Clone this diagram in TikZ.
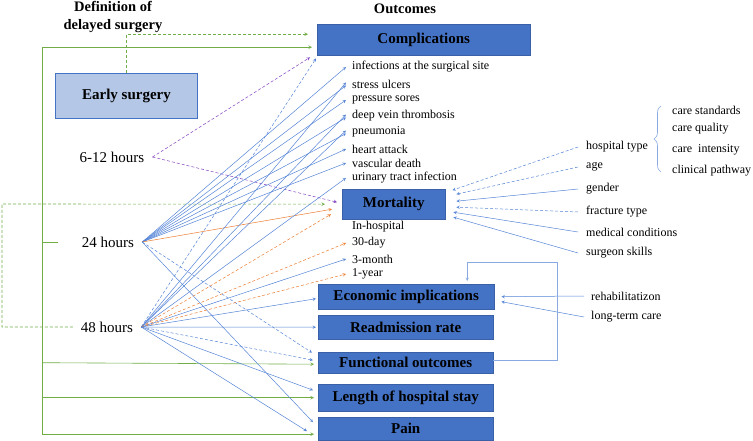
\documentclass[tikz,border=0pt]{standalone}
\usepackage{fontspec}
\setmainfont{Liberation Serif}
\usepackage{xcolor}
\usepackage{tikz}
\usetikzlibrary{positioning, decorations.pathreplacing}

\definecolor{boxblue}{HTML}{4472C4}
\definecolor{paleblue}{HTML}{B4C7E7}
\definecolor{linkblue}{HTML}{5584D6}
\definecolor{linkgreen}{HTML}{70AD47}
\definecolor{linkorange}{HTML}{ED7D31}
\definecolor{linkpurple}{HTML}{8040C0}

\begin{document}
\begin{tikzpicture}[x=1pt, y=-1pt,
  outbox/.style={rectangle, draw=boxblue!85!black, fill=boxblue, anchor=north west, inner sep=0pt, font=\fontsize{15}{17}\bfseries\selectfont},
  item/.style={anchor=west, inner xsep=6pt, inner ysep=1pt, font=\fontsize{12}{13}\selectfont},
  hour/.style={inner xsep=8pt, font=\fontsize{15}{17}\selectfont},
  heading/.style={align=center, font=\fontsize{14.5}{18}\bfseries\selectfont},
  bline/.style={draw=linkblue, line width=0.5pt, ->, >=stealth},
  bdash/.style={bline, dash pattern=on 3pt off 2pt},
  oline/.style={bline, draw=linkorange},
  odash/.style={bline, draw=linkorange, dash pattern=on 3pt off 2pt},
  pdash/.style={bline, draw=linkpurple, dash pattern=on 3pt off 2pt},
  gline/.style={draw=linkgreen, line width=0.6pt, >=stealth},
  gdash/.style={gline, dash pattern=on 3pt off 2pt}
]
\useasboundingbox (0,0) rectangle (753,441);

% Headings
\node[heading] (defhead) at (113,17) {Definition of\\delayed surgery};
\node[heading] (outhead) at (405,9) {Outcomes};

% Outcome boxes
\node[outbox, minimum width=213, minimum height=31] (comp) at (317,24) {Complications};
\node[outbox, minimum width=103, minimum height=30] (mort) at (342,189) {Mortality};
\node[outbox, minimum width=176, minimum height=25] (econ) at (318,284) {Economic implications};
\node[outbox, minimum width=175, minimum height=24] (readm) at (318,315) {Readmission rate};
\node[outbox, minimum width=175, minimum height=21] (func) at (318,352) {Functional outcomes};
\node[outbox, minimum width=175, minimum height=27] (stay) at (318,384) {Length of hospital stay};
\node[outbox, minimum width=175, minimum height=23] (pain) at (318,417) {Pain};
\node[outbox, fill=paleblue, draw=boxblue, line width=1pt, minimum width=142, minimum height=45] (early) at (55,73) {Early surgery};

% Complication and mortality items
\foreach \n/\y/\t in {c1/67/infections at the surgical site, c2/84/stress ulcers, c3/100/pressure sores,
  c4/116/deep vein thrombosis, c5/132/pneumonia, c6/149/heart attack, c7/163/vascular death,
  c8/178/urinary tract infection, m1/227/In-hospital, m2/243/30-day, m3/259/3-month, m4/274/1-year}
  \node[item] (\n) at (346,\y) {\t};

% Delay definitions
\node[hour] (h612) at (112,157) {6-12 hours};
\node[hour] (h24) at (108,242) {24 hours};
\node[hour] (h48) at (107,327) {48 hours};

% Green links
\coordinate (gl) at (42,0);
\draw[gdash,->] (early.north) |- ([xshift=-9pt,yshift=5.5pt]comp.west);
\draw[gline,->] ([yshift=-7.5pt]comp.west -| gl) -- ([xshift=-5pt,yshift=-7.5pt]comp.west);
\draw[gline,->] ([yshift=-7.5pt]comp.west -| gl) |- ([xshift=-4pt,yshift=-5.5pt]pain.west);
\draw[gline,->] (func.west -| gl) -- ([xshift=-4pt,yshift=-1.5pt]func.west);
\draw[gline,->] (stay.west -| gl) -- ([xshift=-4pt]stay.west);
\draw[gline] (h24.west -| gl) -- ++(16,0);
\draw[gdash,->] (h48.west) -| (2,204) -- ([xshift=-17pt]mort.west);

% 6-12 hours links
\draw[pdash] (h612.east) -- ([xshift=-7pt,yshift=-2pt]comp.south west);
\draw[pdash] (h612.east) -- ([xshift=-5pt,yshift=2pt]mort.west);

% 24 hours links
\foreach \n/\s in {1/0, 2/-1.5, 3/0, 4/-1.5, 5/-1.5, 6/0, 7/0}
  \draw[bline] (h24.east) -- ([yshift=\s pt]c\n.west);
\draw[oline] (h24.east) -- ([xshift=-10pt,yshift=-5pt]mort.west);
\draw[bdash] (h24.east) -- ([xshift=-6pt,yshift=10pt]func.west);
\draw[bline] (h24.east) -- ([xshift=-5pt,yshift=6.5pt]pain.west);

% 48 hours links
\draw[bdash] (h48.east) -- ([xshift=-1pt,yshift=-3pt]comp.south west);
\foreach \n in {2,4,5}
  \draw[bline] (h48.east) -- ([yshift=1.5pt]c\n.west);
\draw[bline] (h48.east) -- (c8.west);
\draw[odash] (h48.east) -- ([xshift=-11pt,yshift=-10pt]mort.west);
\draw[odash] (h48.east) -- (m2.west);
\draw[bline] (h48.east) -- (m3.west);
\draw[odash] (h48.east) -- (m4.west);
\draw[bline] (h48.east) -- ([xshift=-2pt,yshift=-2pt]econ.west);
\draw[bline] (h48.east) -- ([xshift=-2pt]readm.west);
\draw[bdash] (h48.east) -- ([xshift=-5pt,yshift=2.5pt]func.west);
\draw[bline] (h48.east) -- ([xshift=-5pt,yshift=7.5pt]stay.west);
\draw[bline] (h48.east) -- ([xshift=-11pt,yshift=-2.5pt]pain.west);

% Factors of mortality
\foreach \n/\y/\t in {f1/147/hospital type, f2/167/age, f3/189/gender, f4/212/fracture type,
  f5/232/medical conditions, f6/253/surgeon skills}
  \node[item, inner xsep=8pt] (\n) at (578,\y) {\t};
\draw[bdash] (f1.west) -- ([xshift=7pt,yshift=14pt]mort.east);
\draw[bdash] (f2.west) -- ([xshift=11pt,yshift=10pt]mort.east);
\draw[bline] (f3.west) -- ([xshift=11pt,yshift=3pt]mort.east);
\draw[bdash] (f4.west) -- ([xshift=11pt,yshift=-3pt]mort.east);
\draw[bline] (f5.west) -- ([xshift=8pt,yshift=-8pt]mort.east);
\draw[bline] (f6.west) -- ([xshift=8pt,yshift=-13pt]mort.east);

% Hospital type details
\draw[draw=linkblue!70, line width=0.6pt, decorate, decoration={brace, amplitude=7pt}] (661,172) -- (661,106);
\foreach \n/\y/\t in {d1/110/care standards, d2/129/care quality, d3/150/care\ \ intensity, d4/171/clinical pathway}
  \node[item, inner xsep=1pt] (\n) at (671,\y) {\t};

% Factors of costs
\node[item, inner xsep=7pt] (rehab) at (584,296) {rehabilitatizon};
\node[item, inner xsep=7pt] (ltc) at (584,317) {long-term care};
\draw[bline] (rehab.west) -- ([xshift=7pt]econ.east);
\draw[bline] (ltc.west) -- ([xshift=7pt,yshift=-5pt]econ.east);
\draw[bline, draw=linkblue!70] ([yshift=2pt]func.east) -| (557,262) -| ([xshift=61pt,yshift=3pt]econ.north);

\end{tikzpicture}
\end{document}
